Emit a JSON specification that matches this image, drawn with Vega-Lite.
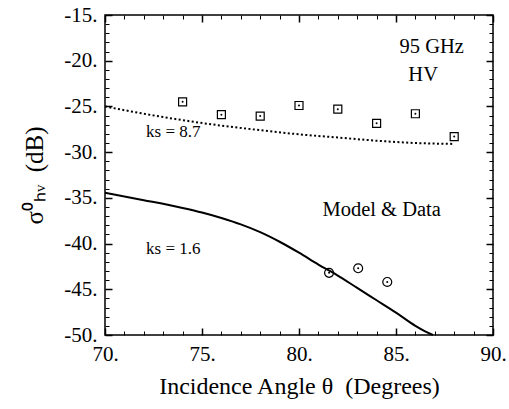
{
  "$schema": "https://vega.github.io/schema/vega-lite/v6.json",
  "width": 388,
  "height": 320,
  "autosize": {"type": "none"},
  "padding": {"left": 105, "top": 15, "right": 16, "bottom": 74},
  "background": "white",
  "config": {
    "view": {"stroke": "black", "strokeWidth": 1.5},
    "font": "Liberation Serif",
    "text": {"font": "Liberation Serif"},
    "axis": {"grid": false, "domain": false, "tickColor": "black", "labelColor": "black", "titleColor": "black", "labelFont": "Liberation Serif", "titleFont": "Liberation Serif", "titleFontWeight": "normal", "labelFlush": false, "labelOverlap": false}
  },
  "datasets": {
    "model": [
      {"x": 70, "y": -25.0, "s": "ks87"}, {"x": 72, "y": -25.8, "s": "ks87"}, {"x": 74, "y": -26.5, "s": "ks87"},
      {"x": 76, "y": -27.1, "s": "ks87"}, {"x": 78, "y": -27.6, "s": "ks87"}, {"x": 80, "y": -28.05, "s": "ks87"},
      {"x": 82, "y": -28.4, "s": "ks87"}, {"x": 84, "y": -28.75, "s": "ks87"}, {"x": 86, "y": -29.0, "s": "ks87"},
      {"x": 88, "y": -29.1, "s": "ks87"},
      {"x": 70, "y": -34.45, "s": "ks16"}, {"x": 72, "y": -35.25, "s": "ks16"}, {"x": 74, "y": -36.1, "s": "ks16"},
      {"x": 75, "y": -36.6, "s": "ks16"}, {"x": 76, "y": -37.2, "s": "ks16"}, {"x": 77, "y": -37.9, "s": "ks16"},
      {"x": 78, "y": -38.75, "s": "ks16"}, {"x": 79, "y": -39.8, "s": "ks16"}, {"x": 80, "y": -41.0, "s": "ks16"},
      {"x": 81, "y": -42.3, "s": "ks16"}, {"x": 82, "y": -43.5, "s": "ks16"}, {"x": 83, "y": -44.85, "s": "ks16"},
      {"x": 84, "y": -46.2, "s": "ks16"}, {"x": 85, "y": -47.55, "s": "ks16"}, {"x": 86, "y": -49.0, "s": "ks16"},
      {"x": 86.5, "y": -49.6, "s": "ks16"}, {"x": 86.9, "y": -50.0, "s": "ks16"}
    ],
    "obs": [
      {"x": 74, "y": -24.5, "s": "sq"}, {"x": 76, "y": -25.9, "s": "sq"}, {"x": 78, "y": -26.05, "s": "sq"},
      {"x": 80, "y": -24.9, "s": "sq"}, {"x": 82, "y": -25.3, "s": "sq"}, {"x": 84, "y": -26.85, "s": "sq"},
      {"x": 86, "y": -25.8, "s": "sq"}, {"x": 88, "y": -28.3, "s": "sq"},
      {"x": 81.55, "y": -43.2, "s": "ci"}, {"x": 83.05, "y": -42.7, "s": "ci"}, {"x": 84.55, "y": -44.2, "s": "ci"}
    ],
    "labels": [
      {"x": 86.84, "y": -18.5, "t": "95 GHz", "k": "big"},
      {"x": 86.4, "y": -21.6, "t": "HV", "k": "big"},
      {"x": 84.26, "y": -36.33, "t": "Model & Data", "k": "big"},
      {"x": 73.52, "y": -27.8, "t": "ks = 8.7", "k": "small"},
      {"x": 73.52, "y": -40.6, "t": "ks = 1.6", "k": "small"}
    ]
  },
  "resolve": {"axis": {"x": "independent", "y": "independent"}},
  "layer": [
    {
      "data": {"name": "model"},
      "transform": [{"filter": "datum.s == 'ks16'"}],
      "mark": {"type": "line", "color": "black", "strokeWidth": 2, "interpolate": "monotone"},
      "encoding": {
        "x": {"field": "x", "type": "quantitative", "scale": {"domain": [70, 90], "nice": false, "zero": false},
          "axis": {"orient": "bottom", "values": [70, 75, 80, 85, 90], "tickSize": -7, "tickWidth": 1.5, "labelPadding": 15,
            "labelExpr": "datum.value + '.'", "labelFontSize": 21, "title": "Incidence Angle θ\u00a0 (Degrees)", "titleFontSize": 24, "titlePadding": 10}},
        "y": {"field": "y", "type": "quantitative", "scale": {"domain": [-50, -15], "nice": false, "zero": false},
          "axis": {"orient": "left", "values": [-50, -45, -40, -35, -30, -25, -20, -15], "tickSize": -7, "tickWidth": 1.5, "labelPadding": 15,
            "labelExpr": "datum.value + '.'", "labelFontSize": 21, "title": "σ⁰ₕᵥ\u00a0 (dB)", "titleFontSize": 25, "titlePadding": 16}}
      }
    },
    {
      "data": {"name": "model"},
      "transform": [{"filter": "datum.s == 'ks87'"}],
      "mark": {"type": "line", "color": "black", "strokeWidth": 2, "strokeDash": [2, 2.4], "interpolate": "monotone"},
      "encoding": {
        "x": {"field": "x", "type": "quantitative", "scale": {"domain": [70, 90], "nice": false, "zero": false},
          "axis": {"orient": "top", "values": [70, 75, 80, 85, 90], "tickSize": -7, "tickWidth": 1.5, "labels": false, "title": null}},
        "y": {"field": "y", "type": "quantitative", "scale": {"domain": [-50, -15], "nice": false, "zero": false},
          "axis": {"orient": "right", "values": [-50, -45, -40, -35, -30, -25, -20, -15], "tickSize": -7, "tickWidth": 1.5, "labels": false, "title": null}}
      }
    },
    {
      "data": {"name": "obs"},
      "transform": [{"filter": "datum.s == 'sq'"}],
      "mark": {"type": "point", "shape": "square", "filled": false, "color": "black", "strokeWidth": 1.2, "size": 64, "opacity": 1},
      "encoding": {
        "x": {"field": "x", "type": "quantitative", "scale": {"domain": [70, 90], "nice": false, "zero": false},
          "axis": {"orient": "bottom", "values": [71, 72, 73, 74, 76, 77, 78, 79, 81, 82, 83, 84, 86, 87, 88, 89], "tickSize": -4, "tickWidth": 1, "labels": false, "title": null}},
        "y": {"field": "y", "type": "quantitative", "scale": {"domain": [-50, -15], "nice": false, "zero": false},
          "axis": {"orient": "left", "values": [-49, -48, -47, -46, -44, -43, -42, -41, -39, -38, -37, -36, -34, -33, -32, -31, -29, -28, -27, -26, -24, -23, -22, -21, -19, -18, -17, -16], "tickSize": -4, "tickWidth": 1, "labels": false, "title": null}}
      }
    },
    {
      "data": {"name": "obs"},
      "transform": [{"filter": "datum.s == 'ci'"}],
      "mark": {"type": "point", "shape": "circle", "filled": false, "color": "black", "strokeWidth": 1.2, "size": 80, "opacity": 1},
      "encoding": {
        "x": {"field": "x", "type": "quantitative", "scale": {"domain": [70, 90], "nice": false, "zero": false},
          "axis": {"orient": "top", "values": [71, 72, 73, 74, 76, 77, 78, 79, 81, 82, 83, 84, 86, 87, 88, 89], "tickSize": -4, "tickWidth": 1, "labels": false, "title": null}},
        "y": {"field": "y", "type": "quantitative", "scale": {"domain": [-50, -15], "nice": false, "zero": false},
          "axis": {"orient": "right", "values": [-49, -48, -47, -46, -44, -43, -42, -41, -39, -38, -37, -36, -34, -33, -32, -31, -29, -28, -27, -26, -24, -23, -22, -21, -19, -18, -17, -16], "tickSize": -4, "tickWidth": 1, "labels": false, "title": null}}
      }
    },
    {
      "data": {"name": "obs"},
      "mark": {"type": "point", "shape": "circle", "filled": true, "color": "black", "size": 4, "opacity": 1},
      "encoding": {
        "x": {"field": "x", "type": "quantitative", "scale": {"domain": [70, 90], "nice": false, "zero": false}, "axis": null},
        "y": {"field": "y", "type": "quantitative", "scale": {"domain": [-50, -15], "nice": false, "zero": false}, "axis": null}
      }
    },
    {
      "data": {"name": "labels"},
      "mark": {"type": "text", "font": "Liberation Serif", "color": "black", "align": "center", "baseline": "middle"},
      "encoding": {
        "x": {"field": "x", "type": "quantitative", "scale": {"domain": [70, 90], "nice": false, "zero": false}, "axis": null},
        "y": {"field": "y", "type": "quantitative", "scale": {"domain": [-50, -15], "nice": false, "zero": false}, "axis": null},
        "text": {"field": "t"},
        "size": {"field": "k", "type": "nominal", "scale": {"domain": ["big", "small"], "range": [20.5, 17]}, "legend": null}
      }
    }
  ]
}
